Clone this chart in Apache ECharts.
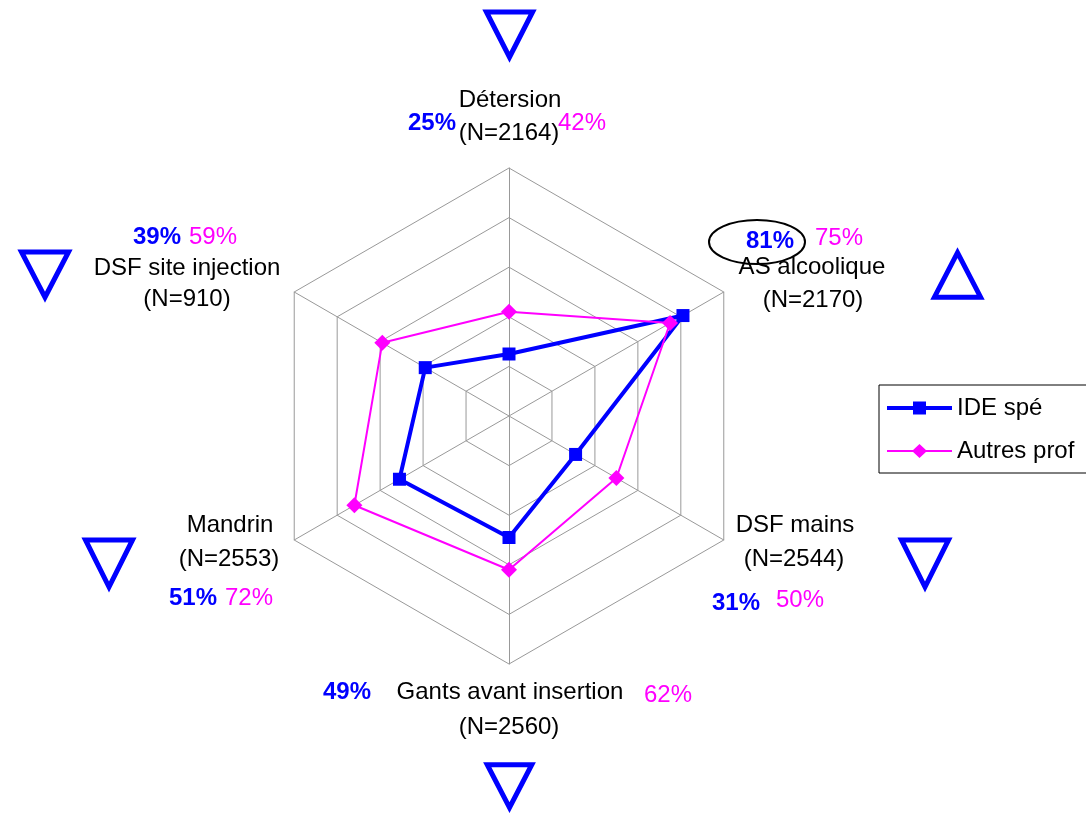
<!DOCTYPE html>
<html>
<head>
<meta charset="utf-8">
<title>Radar IDE spé / Autres prof</title>
<script src="https://cdn.jsdelivr.net/npm/echarts@6/dist/echarts.min.js"></script>
<style>
  html, body { margin: 0; padding: 0; background: #fff; }
  #chart { width: 1086px; height: 815px; }
</style>
</head>
<body>
<div id="chart"></div>
<script>
// axes listed in the order ECharts places them (top, then counterclockwise)
const categories = ['Détersion', 'DSF site injection', 'Mandrin', 'Gants avant insertion', 'DSF mains', 'AS alcoolique']
const effectifs = ['(N=2164)', '(N=910)', '(N=2553)', '(N=2560)', '(N=2544)', '(N=2170)']
const ideSpe = [25, 39, 51, 49, 31, 81]
const autresProf = [42, 59, 72, 62, 50, 75]
// trend arrows next to each axis: 'down' or 'up'
const tendances = ['down', 'down', 'down', 'down', 'down', 'up']

// text placement for each axis (pixels)
const labelPos = [
  { name: [510, 100], n: [509, 133], ide: [432, 123], aut: [582, 123] },
  { name: [187, 268], n: [187, 299], ide: [157, 237], aut: [213, 237] },
  { name: [230, 525], n: [229, 559], ide: [193, 598], aut: [249, 598] },
  { name: [510, 692], n: [509, 727], ide: [347, 692], aut: [668, 695] },
  { name: [795, 525], n: [794, 559], ide: [736, 603], aut: [800, 600] },
  { name: [812, 267], n: [813, 300], ide: [770, 241], aut: [839, 238] }
]
// arrow boxes: [left, top, width, height]
const arrowBox = [
  [482, 9, 55, 54],
  [17, 249, 56, 54],
  [81, 537, 56, 56],
  [483, 762, 53, 51],
  [897, 537, 56, 56],
  [930, 247, 55, 53]
]

const FONT = '"Liberation Sans", Arial, sans-serif'
const BLUE = '#0000ff'
const PINK = '#ff00ff'

// legend icons: line with its marker in the middle (65 x 14 box)
const ICON_IDE = 'path://M0,5 L65,5 L65,9 L0,9 Z M26,0.5 L39,0.5 L39,13.5 L26,13.5 Z'
const ICON_AUTRES = 'path://M0,0 L0,0 Z M0,6 L65,6 L65,8 L0,8 Z M32.5,0 L40,7 L32.5,14 L25,7 Z'

const chart = echarts.init(document.getElementById('chart'))

// shrink a triangle toward its centroid so the stroke stays inside the box
const triangle = (box, dir) => {
  const [x, y, w, h] = box
  let pts = dir === 'down'
    ? [[x, y], [x + w, y], [x + w / 2, y + h]]
    : [[x + w / 2, y], [x + w, y + h], [x, y + h]]
  const cx = (pts[0][0] + pts[1][0] + pts[2][0]) / 3
  const cy = (pts[0][1] + pts[1][1] + pts[2][1]) / 3
  pts = pts.map(p => [cx + (p[0] - cx) * 0.84, cy + (p[1] - cy) * 0.84])
  return {
    type: 'polygon',
    shape: { points: pts },
    style: { fill: 'none', stroke: BLUE, lineWidth: 5, lineJoin: 'miter' }
  }
}

const text = (str, pos, color, bold) => ({
  type: 'text',
  x: pos[0],
  y: pos[1],
  z: 10,
  style: {
    text: str,
    fill: color,
    fontSize: 24,
    fontFamily: FONT,
    fontWeight: bold ? 'bold' : 'normal',
    align: 'center',
    verticalAlign: 'middle',
    textAlign: 'center',
    textVerticalAlign: 'middle'
  }
})

const graphics = []
categories.forEach((cat, i) => {
  const p = labelPos[i]
  graphics.push(text(cat, p.name, '#000', false))
  graphics.push(text(effectifs[i], p.n, '#000', false))
  graphics.push(text(ideSpe[i] + '%', p.ide, BLUE, true))
  graphics.push(text(autresProf[i] + '%', p.aut, PINK, false))
  graphics.push(triangle(arrowBox[i], tendances[i]))
})
// circled value on AS alcoolique
graphics.push({
  type: 'ellipse',
  z: 11,
  shape: { cx: 757, cy: 242, rx: 48, ry: 22 },
  style: { fill: 'none', stroke: '#000', lineWidth: 2 }
})

const option = {
  animation: false,
  backgroundColor: '#fff',
  legend: {
    left: 879,
    top: 385,
    orient: 'vertical',
    padding: [11, 20, 10, 8],
    itemGap: 19,
    itemWidth: 65,
    itemHeight: 14,
    borderColor: '#000',
    borderWidth: 1,
    borderRadius: 0,
    textStyle: { fontSize: 24, fontFamily: FONT, color: '#000' },
    data: [
      { name: 'IDE spé', icon: ICON_IDE },
      { name: 'Autres prof', icon: ICON_AUTRES }
    ]
  },
  radar: {
    center: [509, 416],
    radius: 248,
    shape: 'polygon',
    splitNumber: 5,
    startAngle: 90,
    indicator: categories.map(name => ({ name, max: 100, min: 0 })),
    axisName: { show: false },
    axisLine: { lineStyle: { color: '#999', width: 1 } },
    splitLine: { lineStyle: { color: '#999', width: 1 } },
    splitArea: { show: false },
    axisTick: { show: false },
    axisLabel: { show: false }
  },
  series: [
    {
      type: 'radar',
      data: [
        {
          name: 'IDE spé',
          value: ideSpe,
          symbol: 'rect',
          symbolSize: 13,
          lineStyle: { color: BLUE, width: 4 },
          itemStyle: { color: BLUE }
        },
        {
          name: 'Autres prof',
          value: autresProf,
          symbol: 'diamond',
          symbolSize: 16,
          lineStyle: { color: PINK, width: 2 },
          itemStyle: { color: PINK }
        }
      ]
    }
  ],
  graphic: graphics
}

chart.setOption(option)
</script>
</body>
</html>
